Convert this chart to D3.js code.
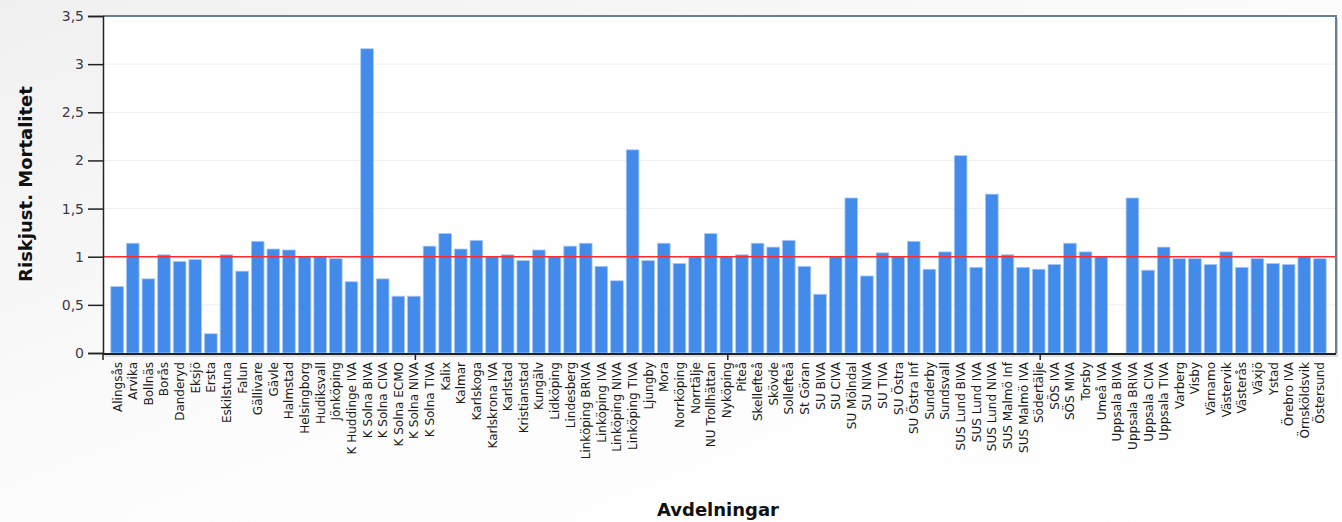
<!DOCTYPE html>
<html><head><meta charset="utf-8">
<script src="https://cdn.jsdelivr.net/npm/d3@7"></script>
<style>html,body{margin:0;padding:0;background:#fff}svg{display:block}</style>
</head><body>
<script>
const categories = ["Alingsås","Arvika","Bollnäs","Borås","Danderyd","Eksjö","Ersta","Eskilstuna","Falun","Gällivare","Gävle","Halmstad","Helsingborg","Hudiksvall","Jönköping","K Huddinge IVA","K Solna BIVA","K Solna CIVA","K Solna ECMO","K Solna NIVA","K Solna TIVA","Kalix","Kalmar","Karlskoga","Karlskrona IVA","Karlstad","Kristianstad","Kungälv","Lidköping","Lindesberg","Linköping BRIVA","Linköping IVA","Linköping NIVA","Linköping TIVA","Ljungby","Mora","Norrköping","Norrtälje","NU Trollhättan","Nyköping","Piteå","Skellefteå","Skövde","Sollefteå","St Göran","SU BIVA","SU CIVA","SU Mölndal","SU NIVA","SU TIVA","SU Östra","SU Östra Inf","Sunderby","Sundsvall","SUS Lund BIVA","SUS Lund IVA","SUS Lund NIVA","SUS Malmö Inf","SUS Malmö IVA","Södertälje","SÖS IVA","SÖS MIVA","Torsby","Umeå IVA","Uppsala BIVA","Uppsala BRIVA","Uppsala CIVA","Uppsala TIVA","Varberg","Visby","Värnamo","Västervik","Västerås","Växjö","Ystad","Örebro IVA","Örnsköldsvik","Östersund"];
const values = [0.69,1.14,0.77,1.02,0.95,0.97,0.20,1.02,0.85,1.16,1.08,1.07,1.00,1.00,0.98,0.74,3.16,0.77,0.59,0.59,
1.11,1.24,1.08,1.17,1.00,1.02,0.96,1.07,1.00,1.11,1.14,0.90,0.75,2.11,0.96,1.14,0.93,1.00,1.24,1.00,
1.02,1.14,1.10,1.17,0.90,0.61,1.00,1.61,0.80,1.04,1.00,1.16,0.87,1.05,2.05,0.89,1.65,1.02,0.89,0.87,
0.92,1.14,1.05,1.00,null,1.61,0.86,1.10,0.98,0.98,0.92,1.05,0.89,0.98,0.93,0.92,1.00,0.98];
const yTicks = [0,0.5,1,1.5,2,2.5,3,3.5];
const referenceValue = [1];
const yTitle = "Riskjust. Mortalitet";
const xTitle = "Avdelningar";

const W = 1342, H = 522;
const m = {left:103, right:1336, top:16, bottom:353};

const svg = d3.select("body").append("svg").attr("width",W).attr("height",H);
const defs = svg.append("defs");
const g = defs.append("linearGradient").attr("id","bg").attr("x1","0").attr("y1","0").attr("x2","1").attr("y2","1");
g.append("stop").attr("offset","0").attr("stop-color","#f0f0f0");
g.append("stop").attr("offset","0.5").attr("stop-color","#fcfcfc");
g.append("stop").attr("offset","1").attr("stop-color","#ffffff");
svg.append("rect").attr("width",W).attr("height",H).attr("fill","url(#bg)");

const x = d3.scaleBand().domain(categories).range([m.left, m.right-2]).paddingInner(0.19).paddingOuter(0.5);
const y = d3.scaleLinear().domain([0,3.5]).range([m.bottom, m.top]);

// plot area with shadow
svg.append("rect").attr("x",m.left+2).attr("y",m.top+2).attr("width",m.right-m.left).attr("height",m.bottom-m.top)
  .attr("fill","#c8ccd4");
svg.append("rect").attr("x",m.left).attr("y",m.top).attr("width",m.right-m.left).attr("height",m.bottom-m.top)
  .attr("fill","#ffffff");

// gridlines
svg.append("g").selectAll("line").data(yTicks.filter(d=>d>0&&d<3.5)).join("line")
  .attr("x1",m.left).attr("x2",m.right).attr("y1",d=>y(d)).attr("y2",d=>y(d))
  .attr("stroke","#efefef").attr("stroke-width",1);

// bars
svg.append("g").selectAll("rect").data(categories.map((c,i)=>({c,v:values[i]})).filter(d=>d.v!=null)).join("rect")
  .attr("x",d=>x(d.c)).attr("width",x.bandwidth())
  .attr("y",d=>y(d.v)).attr("height",d=>y(0)-y(d.v))
  .attr("fill","#428bea").attr("stroke","#a9c9f4").attr("stroke-width",0.8);

// reference line
svg.append("g").selectAll("line").data(referenceValue).join("line")
  .attr("x1",m.left).attr("x2",m.right).attr("y1",d=>y(d)).attr("y2",d=>y(d))
  .attr("stroke","#ff2a2a").attr("stroke-width",1.5);

// frame top & right
svg.append("path").attr("d",`M${m.left},${m.top}H${m.right}V${m.bottom}`)
  .attr("fill","none").attr("stroke","#687c9c").attr("stroke-width",2);

// y axis
const yAxis = svg.append("g").attr("transform",`translate(${m.left},0)`)
  .call(d3.axisLeft(y).tickValues(yTicks).tickSize(15).tickPadding(4).tickFormat(d=>String(d).replace(".",",")));
yAxis.select(".domain").attr("stroke","#222").attr("stroke-width",1.5);
yAxis.selectAll(".tick line").attr("stroke","#222").attr("stroke-width",1.5);
yAxis.selectAll("text").attr("font-family","DejaVu Sans, Verdana, sans-serif").attr("font-size",14).attr("fill","#3a3a4a");

// x axis baseline
svg.append("line").attr("x1",m.left).attr("x2",m.right).attr("y1",m.bottom+1).attr("y2",m.bottom+1)
  .attr("stroke","#222").attr("stroke-width",2);
svg.append("line").attr("x1",m.left+2).attr("x2",m.right+2).attr("y1",m.bottom+3).attr("y2",m.bottom+3)
  .attr("stroke","#d4d6da").attr("stroke-width",1.5);
// x major ticks every 20 categories
const off = x(categories[0]) - m.left;
svg.append("g").selectAll("line").data(categories.filter((c,i)=>i%20===0)).join("line")
  .attr("x1",d=>x(d)-off).attr("x2",d=>x(d)-off).attr("y1",m.bottom).attr("y2",m.bottom+7)
  .attr("stroke","#222").attr("stroke-width",1.5);

// x labels
svg.append("g").selectAll("text").data(categories).join("text")
  .attr("transform",d=>`translate(${x(d)+x.bandwidth()/2+4.5},${m.bottom+9}) rotate(-90)`)
  .attr("text-anchor","end")
  .attr("font-family","DejaVu Sans, Verdana, sans-serif").attr("font-size",12).attr("fill","#1a1a1a")
  .text(d=>d);

// titles
svg.append("text").attr("transform",`translate(32,184) rotate(-90)`).attr("text-anchor","middle")
  .attr("font-family","DejaVu Sans, Verdana, sans-serif").attr("font-size",18).attr("font-weight","bold").attr("fill","#111")
  .text(yTitle);
svg.append("text").attr("x",718).attr("y",516).attr("text-anchor","middle")
  .attr("font-family","DejaVu Sans, Verdana, sans-serif").attr("font-size",18).attr("font-weight","bold").attr("fill","#111")
  .text(xTitle);
</script>
</body></html>
